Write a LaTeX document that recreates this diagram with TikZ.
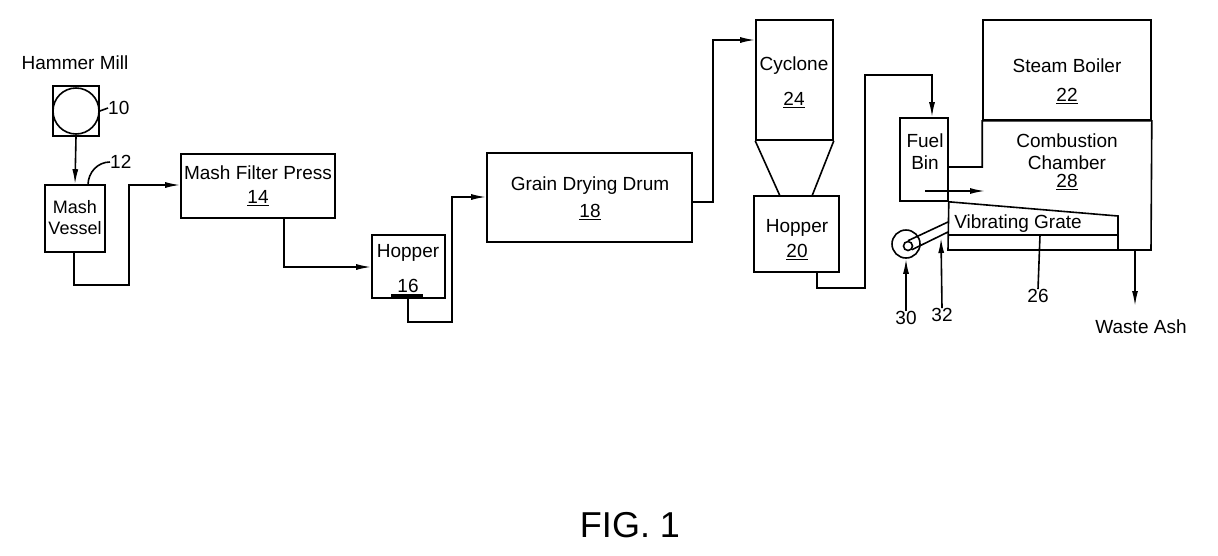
\documentclass[tikz,border=0pt]{standalone}
\usepackage{fontspec}
\setmainfont{Liberation Sans}
\usetikzlibrary{arrows.meta,positioning}
\tikzset{
  unit/.style={rectangle,draw=black,line width=1.6pt,inner sep=0pt,align=center},
  txt/.style={inner sep=0pt,align=center,font=\fontsize{19}{22}\selectfont},
  flow/.style={line width=1.6pt,-{Latex[length=15pt,width=6pt]}},
  pipe/.style={line width=1.6pt}
}
\newcommand{\refnum}[1]{\underline{#1}}
\begin{document}
\begin{tikzpicture}[x=1pt,y=-1pt,>=latex]
  \useasboundingbox (0,0) rectangle (1218,555);
  % Hammer mill and mash vessel
  \node[txt] (millname) at (75,63) {Hammer Mill};
  \node[unit,minimum width=46pt,minimum height=50pt] (mill) at (76,111) {};
  \node[circle,draw,line width=1.6pt,minimum size=46pt,inner sep=0pt] (millwheel) at (76,111) {};
  \node[txt,anchor=west] (n10) at (108,108) {10};
  \draw[pipe] (mill.east) -- (n10.west);
  \node[unit,minimum width=60pt,minimum height=67pt] (vessel) at (75,218.5) {};
  \node[txt,font=\fontsize{18}{21}\selectfont] (vesseltxt) at (75,218) {Mash\\Vessel};
  \draw[flow] (mill.south) -- (vessel.north);
  \node[txt,anchor=west] (n12) at (110,162) {12};
  \draw[pipe] (88,185) to[out=90,in=180] (n12.west);
  % Mash filter press
  \node[unit,minimum width=154pt,minimum height=64pt] (press) at (258,186) {};
  \node[txt] (presstxt) at (258,173) {Mash Filter Press};
  \node[txt] (n14) at (258,198) {\refnum{14}};
  \coordinate (v1) at (74,252);
  \draw[flow] (v1) |- (129,285) |- (press.west |- 0,185);
  % Hopper 16
  \node[unit,minimum width=73pt,minimum height=63pt] (hop16) at (408.5,266.5) {};
  \node[txt] (hop16txt) at (408,253) {Hopper};
  \node[txt] (n16) at (408,286) {16};
  \draw[line width=3.5pt] (391,296) -- (423,296);
  \draw[flow] (284,218) |- (hop16.west |- 0,267);
  % Grain drying drum
  \node[unit,minimum width=205pt,minimum height=89pt] (drum) at (589.5,197.5) {};
  \node[txt] (drumtxt) at (590,186) {Grain Drying Drum};
  \node[txt] (n18) at (590,212) {\refnum{18}};
  \draw[flow] (408,298) |- (452,322) |- (drum.west |- 0,197);
  % Cyclone and hopper 20
  \node[unit,minimum width=77pt,minimum height=120pt] (cyclone) at (794.5,80) {};
  \node[txt] (cyctxt) at (794,66) {Cyclone};
  \node[txt] (n24) at (794,100) {\refnum{24}};
  \draw[pipe] (cyclone.south west) -- (780,196) (cyclone.south east) -- (812,196);
  \node[unit,minimum width=85pt,minimum height=76pt] (hop20) at (796.5,234) {};
  \node[txt] (hop20txt) at (797,228) {Hopper};
  \node[txt] (n20) at (797,252) {\refnum{20}};
  \draw[flow] (692,202) -| (713,40) -- (cyclone.west |- 0,40);
  % Fuel bin, boiler, combustion chamber
  \node[unit,minimum width=48pt,minimum height=83pt] (fuelbin) at (924,159.5) {};
  \node[txt] (bintxt) at (925,152) {Fuel\\Bin};
  \draw[flow] (817,272) |- (865,288) |- (932,75) -- (fuelbin.north -| 932,0);
  \node[unit,minimum width=168pt,minimum height=100pt] (boiler) at (1067,70) {};
  \node[txt] (boilertxt) at (1067,66) {Steam Boiler};
  \node[txt] (n22) at (1067,96) {\refnum{22}};
  \draw[pipe] (fuelbin.east |- 0,167) -| (boiler.south west) -- (boiler.south east)
    -- (1151,250) -- (948,250) -- (fuelbin.south east);
  \node[txt] (chambertxt) at (1067,152) {Combustion\\Chamber};
  \node[txt] (n28) at (1067,182) {\refnum{28}};
  \draw[flow] (925,191) -- (985,191);
  % Vibrating grate
  \draw[pipe] (fuelbin.south east) -- (1118,216) -- (1118,250);
  \draw[pipe] (948,235) -- (1118,235);
  \node[txt] (gratetxt) at (1018,224) {Vibrating Grate};
  \node[txt] (n26) at (1038,296) {26};
  \draw[pipe] (1040,235) -- (n26.north);
  % Drive wheel and arm
  \node[circle,draw,line width=1.6pt,minimum size=28pt,inner sep=0pt] (wheel) at (906,244) {};
  \node[circle,draw,line width=1.6pt,minimum size=9pt,inner sep=0pt] (hub) at (908,246) {};
  \draw[pipe] (hub.north) -- (948,222) (hub.south east) -- (948,232);
  \node[txt] (n30) at (906,318) {30};
  \node[txt] (n32) at (942,315) {32};
  \draw[flow] (n30.north) -- (wheel.south);
  \draw[flow] (n32.north) -- (941,238);
  % Waste ash
  \node[txt] (ash) at (1141,327) {Waste Ash};
  \draw[flow] (1135,250) -- (1135,306);
  % Figure caption
  \node[txt,font=\fontsize{36}{40}\selectfont] (fig) at (630,525) {FIG. 1};
\end{tikzpicture}
\end{document}
